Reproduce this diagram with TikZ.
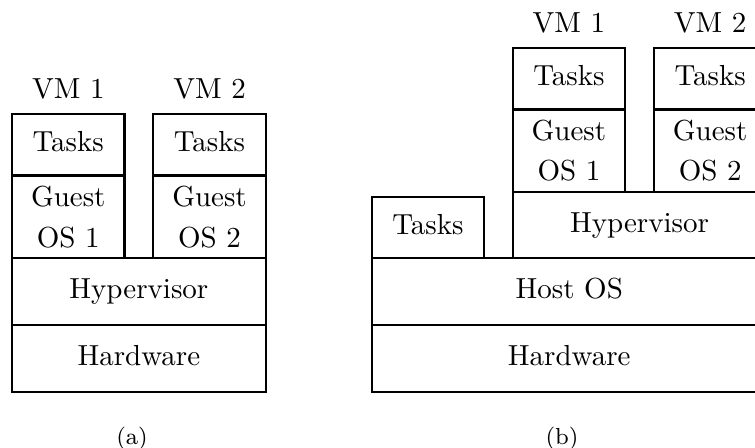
\documentclass[tikz,border=0pt]{standalone}
\usepackage{tikz}
\usetikzlibrary{positioning}

\begin{document}
\begin{tikzpicture}[x=0.3448pt,y=-0.3448pt, box/.style={draw,thick,inner sep=0pt,outer sep=0pt}, layer/.style={box,text height=8.5pt,text depth=3.5pt}, guest/.style={box,align=center,minimum width=38.8pt,minimum height=28.4pt}, tasks/.style={layer,minimum width=38.8pt,minimum height=21.3pt}]
\useasboundingbox (0,0) rectangle (755,448);
% (a) hypervisor on bare hardware
\node[layer,minimum width=87.5pt,minimum height=23.1pt,anchor=south west] (hwA) at (12,392) {Hardware};
\node[layer,minimum width=87.5pt,minimum height=23.1pt,above=0pt of hwA] (hypA) {Hypervisor};
\node[guest,above right=0pt of hypA.north west] (guestA1) {Guest\\[2pt]OS 1};
\node[guest,above left=0pt of hypA.north east] (guestA2) {Guest\\[2pt]OS 2};
\node[tasks,above=0pt of guestA1] (tasksA1) {Tasks};
\node[tasks,above=0pt of guestA2] (tasksA2) {Tasks};
\node[above=1.5pt of tasksA1] (vmA1) {VM 1};
\node[above=1.5pt of tasksA2] (vmA2) {VM 2};
\node[font=\footnotesize,anchor=base] (capA) at (132,445) {(a)};
% (b) hypervisor on a host OS
\node[layer,minimum width=136pt,minimum height=23.1pt,anchor=south west] (hwB) at (372,392) {Hardware};
\node[layer,minimum width=136pt,minimum height=23.1pt,above=0pt of hwB] (hostB) {Host OS};
\node[layer,minimum width=38.6pt,minimum height=21pt,above right=0pt of hostB.north west] (tasksB) {Tasks};
\node[layer,minimum width=87.5pt,minimum height=22.8pt,above left=0pt of hostB.north east] (hypB) {Hypervisor};
\node[guest,above right=0pt of hypB.north west] (guestB1) {Guest\\[2pt]OS 1};
\node[guest,above left=0pt of hypB.north east] (guestB2) {Guest\\[2pt]OS 2};
\node[tasks,above=0pt of guestB1] (tasksB1) {Tasks};
\node[tasks,above=0pt of guestB2] (tasksB2) {Tasks};
\node[above=1.5pt of tasksB1] (vmB1) {VM 1};
\node[above=1.5pt of tasksB2] (vmB2) {VM 2};
\node[font=\footnotesize,anchor=base] (capB) at (562,445) {(b)};
\end{tikzpicture}
\end{document}
